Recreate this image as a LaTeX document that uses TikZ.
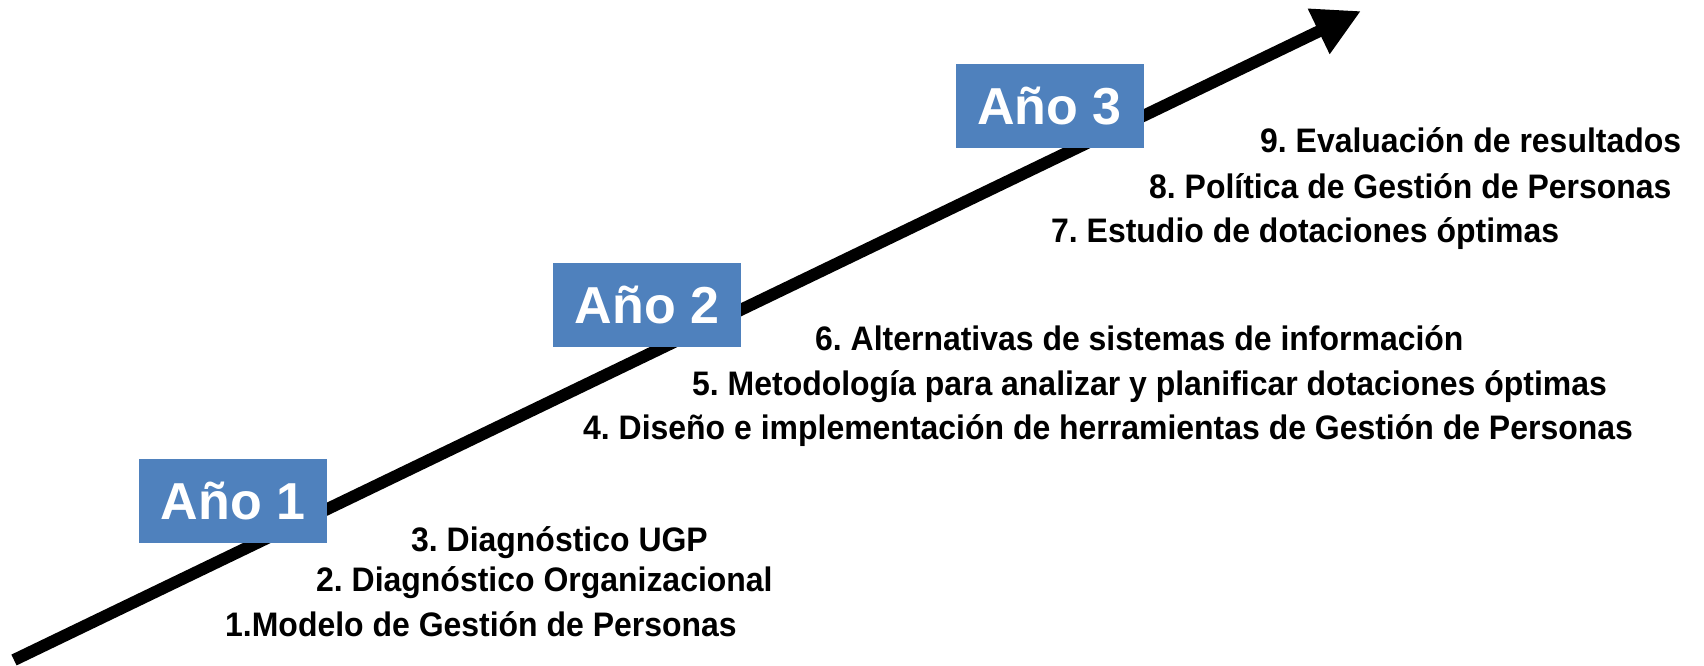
\documentclass[tikz,border=0pt]{standalone}
\usepackage{fontspec}
\setmainfont{Liberation Sans}
\newfontfamily\itemfont{Liberation Sans}[FakeStretch=0.94]
\usetikzlibrary{arrows.meta}
\definecolor{yearblue}{HTML}{4F81BD}
\tikzset{
  yearbox/.style={fill=yearblue, text=white, minimum width=188pt, minimum height=84pt,
    inner sep=0pt, font=\fontsize{52}{60}\selectfont\bfseries},
  item/.style={anchor=base west, inner sep=0pt, font=\frenchspacing\itemfont\fontsize{34}{40}\selectfont\bfseries},
  timeline/.style={line width=12pt, -{Triangle[length=47pt,width=47pt]}}
}
\begin{document}
\begin{tikzpicture}[x=1pt,y=-1pt]
\useasboundingbox (0,0) rectangle (1704,666);
\coordinate (start) at (14,660);
\coordinate (tip) at (1361,11);
\draw[timeline] (start) -- (tip);
\node[yearbox] (y1) at (233,501) {Año 1};
\node[yearbox] (y2) at (647,305) {Año 2};
\node[yearbox] (y3) at (1049.5,106) {Año 3};
\node[item] (i9) at (1260,153) {9. Evaluación de resultados};
\node[item] (i8) at (1149,198) {8. Política de Gestión de Personas};
\node[item] (i7) at (1051,242) {7. Estudio de dotaciones óptimas};
\node[item] (i6) at (815,350) {6. Alternativas de sistemas de información};
\node[item] (i5) at (692,395) {5. Metodología para analizar y planificar dotaciones óptimas};
\node[item] (i4) at (583,439) {4. Diseño e implementación de herramientas de Gestión de Personas};
\node[item] (i3) at (411,551) {3. Diagnóstico UGP};
\node[item] (i2) at (316,591) {2. Diagnóstico Organizacional};
\node[item] (i1) at (225,636) {1.Modelo de Gestión de Personas};
\end{tikzpicture}
\end{document}
